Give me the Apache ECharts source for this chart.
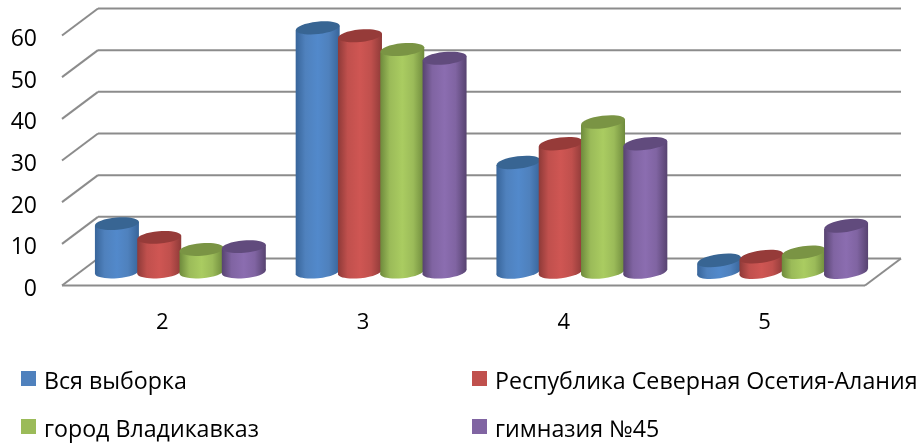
<!DOCTYPE html>
<html><head><meta charset="utf-8">
<style>html,body{margin:0;padding:0;background:#fff}#c{width:920px;height:445px}</style>
<script src="https://cdn.jsdelivr.net/npm/echarts@6/dist/echarts.min.js"></script>
</head><body><div id="c"></div>
<script>
const categories = ['2','3','4','5'];
const yTicks = [0,10,20,30,40,50,60];
const seriesNames = ['Вся выборка','Республика Северная Осетия-Алания','город Владикавказ','гимназия №45'];
const allSample = [11.6,58.6,26.3,2.8];
const republic  = [8.3,56.7,30.8,3.7];
const city      = [5.4,53.4,36.0,4.7];
const gymnasium = [6.1,51.3,30.8,11.1];
const values = [allSample,republic,city,gymnasium];
const palette = [
  {base:'#4F81BD',edge:'#38659A',mid:'#5289CB',top:'#386593'},
  {base:'#C0504D',edge:'#8E3A38',mid:'#CF5653',top:'#963B39'},
  {base:'#9BBB59',edge:'#6E8A3C',mid:'#AACC61',top:'#7A9444'},
  {base:'#8064A2',edge:'#574370',mid:'#8B6DB0',top:'#614B7D'}
];
const FONT = 'Open Sans';
const DX = 18, DY = 13.5, BACKX = 36, BACKY = 27;
const STEP = 42.3, RX = 22, RY = 6.2;

const chart = echarts.init(document.getElementById('c'),null,{renderer:'canvas'});

function frameItem(params, api){
  const v = api.value(0);
  const cs = params.coordSys;
  const y = api.coord([0,v])[1];
  const left = cs.x, right = cs.x+cs.width;
  const st = {stroke:'#8C8C8C',lineWidth:2,fill:null};
  const children = [
    {type:'line',shape:{x1:left,y1:y,x2:left+BACKX,y2:y-BACKY},style:st},
    {type:'line',shape:{x1:left+BACKX,y1:y-BACKY,x2:right+BACKX,y2:y-BACKY},style:st}
  ];
  if(v===0){
    children.push({type:'line',shape:{x1:left,y1:y,x2:right,y2:y},style:st});
    children.push({type:'line',shape:{x1:right,y1:y,x2:right+BACKX,y2:y-BACKY},style:st});
  }
  return {type:'group',children};
}

function cylinderItem(si){
  return function(params, api){
    const cat = api.value(0), val = api.value(1);
    const c = palette[si];
    const top = api.coord([cat,val]), base = api.coord([cat,0]);
    const cx = top[0]+DX+(si-1.5)*STEP, yTop = top[1]-DY, yBase = base[1]-DY;
    const tilt = 0.085+0.02*cat;
    const d = RX*Math.sin(tilt);
    const grad = new echarts.graphic.LinearGradient(0,0,1,0,[
      {offset:0,color:c.edge},{offset:.22,color:c.base},{offset:.5,color:c.mid},
      {offset:.75,color:c.base},{offset:1,color:c.edge}]);
    return {type:'group',children:[
      {type:'ellipse',x:cx,y:yBase,rotation:tilt,shape:{cx:0,cy:0,rx:RX,ry:RY},style:{fill:grad}},
      {type:'polygon',shape:{points:[[cx-RX,yTop+d],[cx+RX,yTop-d],[cx+RX,yBase-d],[cx-RX,yBase+d]]},style:{fill:grad}},
      {type:'ellipse',x:cx,y:yTop,rotation:tilt,shape:{cx:0,cy:0,rx:RX,ry:RY},style:{fill:c.top}}
    ]};
  };
}

const legendPos = [[21,371],[472,371],[21,419],[472,419]];
chart.setOption({
  animation:false,
  backgroundColor:'#fff',
  grid:{left:62,right:55,top:35.5,bottom:159.5,containLabel:false},
  xAxis:{type:'category',data:categories,boundaryGap:true,
    axisLine:{show:false},axisTick:{show:false},splitLine:{show:false},
    axisLabel:{color:'#000',fontFamily:FONT,fontSize:22,margin:26}},
  yAxis:{type:'value',min:0,max:60,interval:10,
    axisLine:{show:false},axisTick:{show:false},splitLine:{show:false},
    axisLabel:{margin:25,formatter:'{a|{value}}',
      rich:{a:{color:'#000',fontFamily:FONT,fontSize:23,padding:[8,0,0,0]}}}},
  legend:seriesNames.map((n,i)=>({
    data:[n],left:legendPos[i][0],top:legendPos[i][1],padding:0,
    itemWidth:15,itemHeight:15,icon:'rect',itemGap:0,selectedMode:false,
    formatter:'{t|{name}}',
    textStyle:{rich:{t:{color:'#000',fontFamily:FONT,fontSize:23.2,padding:[8,0,0,3]}}}
  })),
  series:[
    {type:'custom',name:'frame',silent:true,z:1,renderItem:frameItem,
     coordinateSystem:'cartesian2d',encode:{y:0},data:yTicks.map(v=>[v])},
    ...seriesNames.map((n,i)=>({
      type:'custom',name:n,z:2+i,renderItem:cylinderItem(i),
      coordinateSystem:'cartesian2d',
      itemStyle:{color:palette[i].base},
      encode:{x:0,y:1},
      data:values[i].map((v,k)=>[k,v])
    }))
  ]
});
</script></body></html>
